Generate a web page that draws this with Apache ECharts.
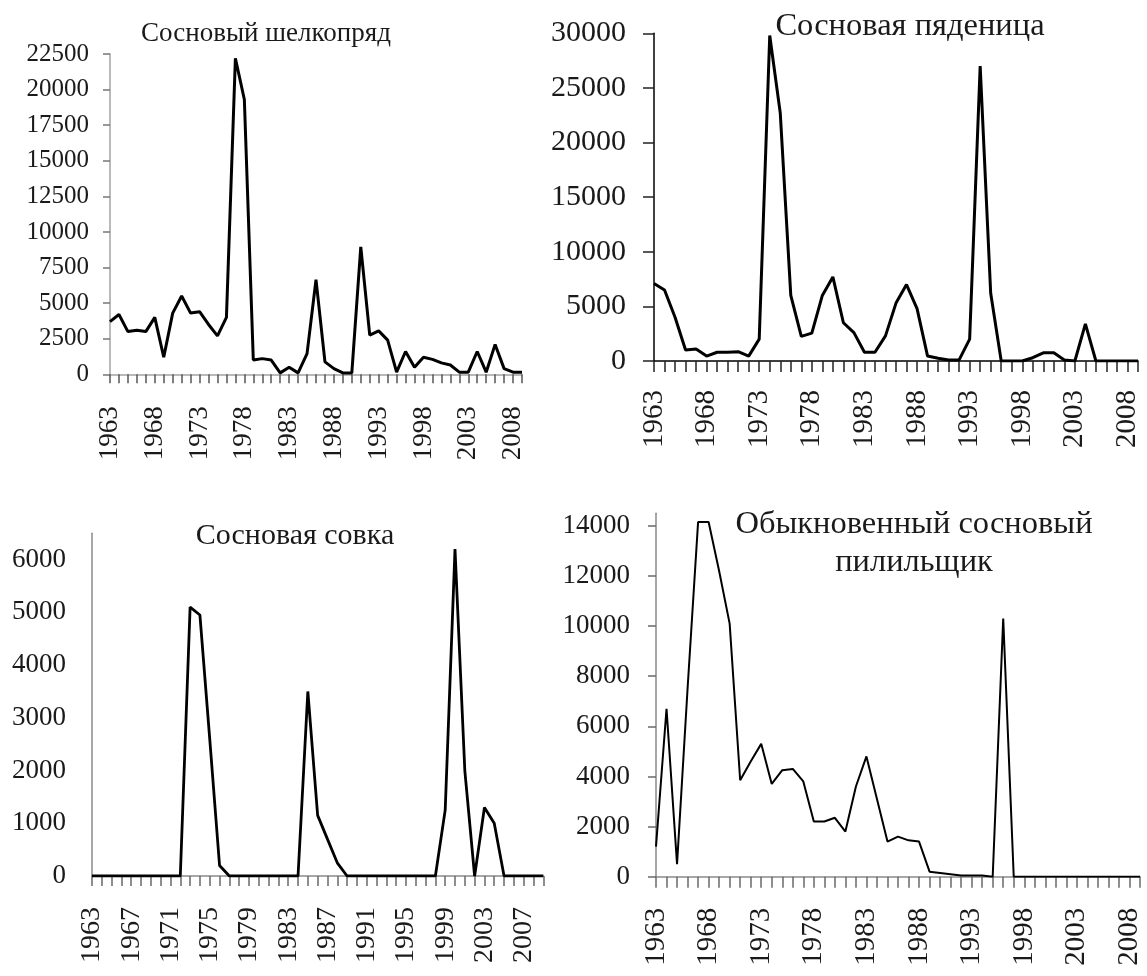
<!DOCTYPE html>
<html>
<head>
<meta charset="utf-8">
<title>Динамика очагов вредителей сосны</title>
<script src="https://cdn.jsdelivr.net/npm/echarts@6/dist/echarts.min.js"></script>
<style>
  html, body { margin: 0; padding: 0; background: #fff; }
  #chart { width: 1147px; height: 976px; }
</style>
</head>
<body>
<div id="chart"></div>
<script>
// Years of observation (category axis for all four panels)
const years = [
  '1963','1964','1965','1966','1967','1968','1969','1970','1971','1972',
  '1973','1974','1975','1976','1977','1978','1979','1980','1981','1982',
  '1983','1984','1985','1986','1987','1988','1989','1990','1991','1992',
  '1993','1994','1995','1996','1997','1998','1999','2000','2001','2002',
  '2003','2004','2005','2006','2007','2008','2009'
];

// Panel titles
const titleSilkMoth = 'Сосновый шелкопряд';
const titleLooper = 'Сосновая пяденица';
const titleBeauty = 'Сосновая совка';
const titleSawfly = 'Обыкновенный сосновый\nпилильщик';

// Сосновый шелкопряд
const silkMoth = [
  3700, 4200, 3000, 3100, 3000, 4000, 1200, 4300, 5500, 4300,
  4400, 3500, 2700, 4000, 22200, 19300, 1000, 1100, 1000, 100,
  500, 100, 1450, 6650, 870, 400, 100, 100, 8950, 2750,
  3050, 2400, 150, 1600, 500, 1200, 1050, 800, 650, 150,
  150, 1600, 150, 2100, 400, 150, 150
];

// Сосновая пяденица
const looper = [
  7100, 6500, 4000, 1000, 1100, 450, 800, 800, 850, 450,
  2000, 29800, 22700, 6000, 2250, 2550, 6000, 7700, 3500, 2600,
  800, 800, 2300, 5300, 7000, 4800, 450, 250, 100, 100,
  2000, 27000, 6200, 0, 0, 0, 300, 750, 750, 100,
  0, 3400, 0, 0, 0, 0, 0
];

// Сосновая совка
const pineBeauty = [
  0, 0, 0, 0, 0, 0, 0, 0, 0, 0,
  5100, 4950, 2600, 200, 0, 0, 0, 0, 0, 0,
  0, 0, 3500, 1150, 700, 250, 0, 0, 0, 0,
  0, 0, 0, 0, 0, 0, 1250, 6200, 2000, 0,
  1300, 1000, 0, 0, 0, 0, 0
];

// Обыкновенный сосновый пилильщик
const sawfly = [
  1200, 6700, 500, 7500, 14150, 14150, 12200, 10100, 3850, 4600,
  5300, 3700, 4250, 4300, 3800, 2200, 2200, 2350, 1800, 3600,
  4800, 3100, 1400, 1600, 1450, 1400, 200, 150, 100, 50,
  50, 50, 0, 10300, 0, 0, 0, 0, 0, 0,
  0, 0, 0, 0, 0, 0, 0
];

const FONT = "'Liberation Serif', 'Times New Roman', serif";
const TEXT = '#1a1a1a';

function makeTitle(text, cx, cy, size, lineHeight) {
  return {
    text: text,
    left: cx,
    top: cy,
    padding: 0,
    textAlign: 'center',
    textVerticalAlign: 'middle',
    textStyle: {
      fontFamily: FONT,
      fontWeight: 'normal',
      fontSize: size,
      lineHeight: lineHeight || size,
      color: TEXT
    }
  };
}

function makeXAxis(gridIndex, opts) {
  return {
    type: 'category',
    gridIndex: gridIndex,
    data: years,
    boundaryGap: false,
    axisLine: { lineStyle: { color: opts.lineColor, width: 1.5 } },
    axisTick: {
      show: true,
      interval: 0,
      length: opts.tickLen,
      lineStyle: { color: opts.tickColor, width: 1.5 }
    },
    axisLabel: {
      interval: opts.labelEvery - 1,
      rotate: 90,
      margin: opts.labelMargin,
      fontFamily: FONT,
      fontSize: opts.fontSize,
      color: TEXT
    },
    splitLine: { show: false }
  };
}

function makeYAxis(gridIndex, opts) {
  return {
    type: 'value',
    gridIndex: gridIndex,
    min: 0,
    max: opts.max,
    interval: opts.interval,
    axisLine: { show: true, lineStyle: { color: opts.lineColor, width: 1.5 } },
    axisTick: {
      show: opts.tickLen > 0,
      length: opts.tickLen,
      lineStyle: { color: opts.tickColor, width: 1.5 }
    },
    axisLabel: {
      margin: opts.labelMargin,
      fontFamily: FONT,
      fontSize: opts.fontSize,
      color: TEXT,
      showMaxLabel: opts.showMax,
      // plain integers, no thousands separator
      formatter: function (v) { return String(v); }
    },
    splitLine: { show: false }
  };
}

function makeLine(index, data, width) {
  return {
    type: 'line',
    xAxisIndex: index,
    yAxisIndex: index,
    data: data,
    symbol: 'none',
    lineStyle: { color: '#000', width: width },
    z: 3
  };
}

const option = {
  animation: false,
  backgroundColor: '#fff',
  title: [
    makeTitle(titleSilkMoth, 266, 34, 27),
    makeTitle(titleLooper, 910, 26, 32.5),
    makeTitle(titleBeauty, 295, 536, 30),
    makeTitle(titleSawfly, 914, 543, 32.5, 38)
  ],
  grid: [
    { left: 110, top: 54, width: 412, height: 320.3 },
    { left: 654, top: 33.3, width: 484, height: 327.7 },
    { left: 92, top: 533.3, width: 451.3, height: 342.7 },
    { left: 656, top: 513.3, width: 484, height: 363.4 }
  ],
  xAxis: [
    makeXAxis(0, { lineColor: '#a3a3a3', tickColor: '#555', tickLen: 9, labelEvery: 5, labelMargin: 32, fontSize: 27 }),
    makeXAxis(1, { lineColor: '#000', tickColor: '#222', tickLen: 11, labelEvery: 5, labelMargin: 29, fontSize: 29 }),
    makeXAxis(2, { lineColor: '#8a8a8a', tickColor: '#6a6a6a', tickLen: 10, labelEvery: 4, labelMargin: 31, fontSize: 28 }),
    makeXAxis(3, { lineColor: '#8a8a8a', tickColor: '#6a6a6a', tickLen: 11, labelEvery: 5, labelMargin: 31, fontSize: 29 })
  ],
  yAxis: [
    makeYAxis(0, { max: 22500, interval: 2500, lineColor: '#a3a3a3', tickColor: '#777', tickLen: 7, labelMargin: 21, fontSize: 25, showMax: true }),
    makeYAxis(1, { max: 30000, interval: 5000, lineColor: '#000', tickColor: '#222', tickLen: 11, labelMargin: 28, fontSize: 30, showMax: true }),
    makeYAxis(2, { max: 6500, interval: 1000, lineColor: '#8a8a8a', tickColor: '#8a8a8a', tickLen: 0, labelMargin: 26, fontSize: 27, showMax: false }),
    makeYAxis(3, { max: 14500, interval: 2000, lineColor: '#8a8a8a', tickColor: '#6a6a6a', tickLen: 8, labelMargin: 26, fontSize: 27, showMax: false })
  ],
  series: [
    makeLine(0, silkMoth, 3),
    makeLine(1, looper, 3),
    makeLine(2, pineBeauty, 2.8),
    makeLine(3, sawfly, 2)
  ]
};

const chart = echarts.init(document.getElementById('chart'), null, { renderer: 'canvas' });
chart.setOption(option);
</script>
</body>
</html>
